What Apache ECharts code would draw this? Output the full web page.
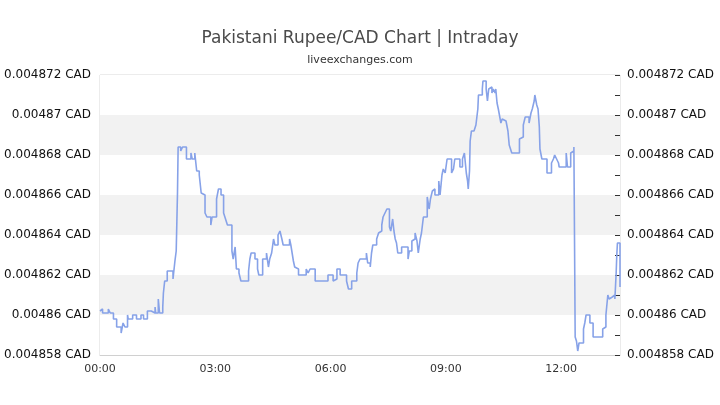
<!DOCTYPE html>
<html>
<head>
<meta charset="utf-8">
<script src="https://cdn.jsdelivr.net/npm/echarts@6/dist/echarts.min.js"></script>
<style>html,body{margin:0;padding:0;background:#fff}#c{width:720px;height:405px}</style>
</head>
<body>
<div id="c"></div>
<script>
const titleText = 'Pakistani Rupee/CAD Chart | Intraday';
const subtitleText = 'liveexchanges.com';
const currencyUnit = 'CAD';
const xTickLabels = ['00:00', '03:00', '06:00', '09:00', '12:00'];
const yMin = 0.004858, yMax = 0.004872, yStep = 0.000002;

// minutes since 00:00
const minutes = [0,2,4,13,16,21,26,33,36,39,
43,44,51,57,64,68,74,80,86,87,
91,93,98,99,101,105,114,117,119,121,
122,126,129,135,142,144,148,151,155,158,
161,164,167,173,175,182,185,189,193,196,
199,206,208,211,213,217,220,232,234,236,
242,246,248,254,260,263,265,268,271,273,
278,281,284,286,296,298,300,302,304,307,
310,322,325,328,336,356,364,367,370,375,
385,388,393,401,403,406,416,418,422,424,
426,432,435,437,440,442,445,448,452,454,
456,457,459,461,463,465,471,481,483,487,
489,492,495,497,500,502,505,511,514,516,
519,520,523,529,531,534,536,539,542,549,
552,554,562,566,569,572,574,575,577,578,
580,584,587,590,591,597,598,603,605,607,
609,612,614,617,618,620,622,625,626,628,
631,634,637,639,641,643,655,658,661,664,
670,673,675,678,679,682,684,686,687,690,
698,705,708,710,713,716,717,728,730,735,
738,740,741,742,744,746,748,755,757,759,
765,770,785,787,790,793,795,797,800,802,
804,806,807,808,812];

const rates = [0.0048602,0.0048603,0.0048601,0.0048603,0.0048601,0.0048598,0.0048594,0.0048591,0.0048596,0.0048594,
0.0048600,0.0048598,0.0048600,0.0048598,0.0048600,0.0048598,0.0048602,0.0048601,0.0048604,0.0048601,
0.0048608,0.0048601,0.0048604,0.0048611,0.0048617,0.0048622,0.0048618,0.0048627,0.0048632,0.0048661,
0.0048684,0.0048682,0.0048684,0.0048678,0.0048681,0.0048678,0.0048681,0.0048672,0.0048670,0.0048661,
0.0048660,0.0048651,0.0048649,0.0048645,0.0048649,0.0048658,0.0048663,0.0048660,0.0048651,0.0048648,
0.0048645,0.0048632,0.0048628,0.0048634,0.0048623,0.0048621,0.0048617,0.0048622,0.0048628,0.0048631,
0.0048628,0.0048623,0.0048620,0.0048628,0.0048631,0.0048624,0.0048628,0.0048631,0.0048638,0.0048635,
0.0048640,0.0048642,0.0048638,0.0048635,0.0048638,0.0048635,0.0048631,0.0048627,0.0048624,0.0048623,
0.0048620,0.0048623,0.0048621,0.0048623,0.0048617,0.0048620,0.0048617,0.0048618,0.0048623,0.0048620,
0.0048617,0.0048613,0.0048617,0.0048621,0.0048626,0.0048628,0.0048631,0.0048626,0.0048624,0.0048631,
0.0048635,0.0048638,0.0048641,0.0048642,0.0048645,0.0048649,0.0048651,0.0048653,0.0048644,0.0048642,
0.0048646,0.0048648,0.0048642,0.0048638,0.0048636,0.0048631,0.0048634,0.0048628,0.0048632,0.0048637,
0.0048638,0.0048641,0.0048637,0.0048631,0.0048638,0.0048641,0.0048649,0.0048659,0.0048653,0.0048658,
0.0048662,0.0048663,0.0048660,0.0048667,0.0048660,0.0048670,0.0048673,0.0048671,0.0048678,0.0048671,
0.0048673,0.0048678,0.0048674,0.0048678,0.0048681,0.0048671,0.0048667,0.0048663,0.0048672,0.0048687,
0.0048692,0.0048693,0.0048695,0.0048703,0.0048710,0.0048713,0.0048717,0.0048713,0.0048707,0.0048713,
0.0048714,0.0048711,0.0048713,0.0048711,0.0048713,0.0048706,0.0048703,0.0048702,0.0048696,0.0048698,
0.0048697,0.0048696,0.0048692,0.0048685,0.0048683,0.0048681,0.0048688,0.0048689,0.0048695,0.0048699,
0.0048696,0.0048701,0.0048703,0.0048707,0.0048710,0.0048705,0.0048703,0.0048694,0.0048683,0.0048678,
0.0048671,0.0048676,0.0048678,0.0048680,0.0048678,0.0048676,0.0048674,0.0048681,0.0048674,0.0048681,
0.0048682,0.0048684,0.0048637,0.0048589,0.0048587,0.0048582,0.0048586,0.0048593,0.0048596,0.0048600,
0.0048596,0.0048589,0.0048593,0.0048594,0.0048600,0.0048610,0.0048608,0.0048609,0.0048608,0.0048610,
0.0048608,0.0048621,0.0048630,0.0048636,0.0048614];

const xMax = 812;
const FONT = 'DejaVu Sans';

const chart = echarts.init(document.getElementById('c'), null, {renderer: 'canvas'});
const yLabelFmt = v => String(parseFloat(v.toFixed(6))) + ' ' + currencyUnit;
const yAxisBase = {
  type: 'value', min: yMin, max: yMax, interval: yStep,
  axisLine: {show: false},
  splitLine: {show: false},
  axisLabel: {formatter: yLabelFmt, color: '#111', fontSize: 12, fontFamily: FONT}
};
chart.setOption({
  animation: false,
  backgroundColor: '#fff',
  title: [
    {text: titleText, left: 'center', top: 30, padding: 0,
     textStyle: {fontFamily: FONT, fontSize: 17, fontWeight: 'normal', color: '#4a4a4a'}},
    {text: subtitleText, left: 'center', top: 55, padding: 0,
     textStyle: {fontFamily: FONT, fontSize: 11, fontWeight: 'normal', color: '#333'}}
  ],
  grid: {left: 100, right: 100, top: 75, bottom: 50, show: true, borderColor: '#d8d8d8', borderWidth: 1, backgroundColor: 'transparent'},
  xAxis: {
    type: 'value', min: 0, max: xMax, interval: 180,
    axisLine: {show: true, lineStyle: {color: '#d0d0d0'}},
    axisTick: {show: false},
    splitLine: {show: false},
    axisLabel: {
      showMaxLabel: false,
      color: '#333', fontSize: 11, fontFamily: FONT, margin: 9,
      formatter: v => xTickLabels[Math.round(v / 180)] || ''
    }
  },
  yAxis: [
    Object.assign({}, yAxisBase, {
      position: 'left',
      axisTick: {show: false},
      axisLabel: Object.assign({}, yAxisBase.axisLabel, {margin: 9}),
      splitArea: {show: true, areaStyle: {color: ['#ffffff', '#f2f2f2']}}
    }),
    Object.assign({}, yAxisBase, {
      position: 'right',
      axisLabel: Object.assign({}, yAxisBase.axisLabel, {margin: 7}),
      axisTick: {show: true, inside: true, length: 5, lineStyle: {color: '#333'}},
      minorTick: {show: true, splitNumber: 2, length: 5, lineStyle: {color: '#333'}}
    })
  ],
  series: [{
    type: 'line',
    yAxisIndex: 0,
    step: 'end',
    showSymbol: false,
    symbol: 'none',
    lineStyle: {color: '#87a2e8', width: 1.6},
    data: minutes.map((m, i) => [m, rates[i]])
  }]
});
</script>
</body>
</html>
